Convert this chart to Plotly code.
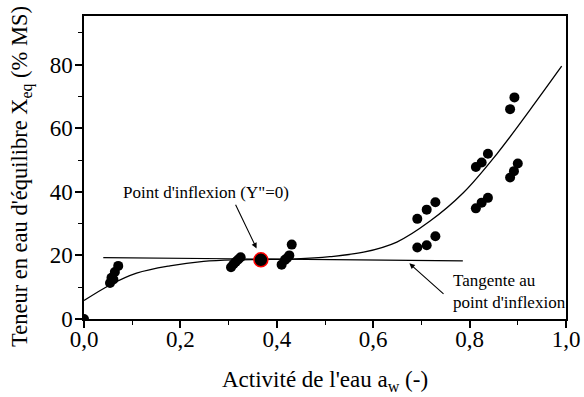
import plotly.graph_objects as go

# Measured points
aw_points = [0.0, 0.054, 0.057, 0.061, 0.064, 0.071,
             0.305, 0.310, 0.315, 0.320, 0.325,
             0.410, 0.417, 0.421, 0.426, 0.431,
             0.6915, 0.711, 0.729, 0.6915, 0.711, 0.729,
             0.813, 0.825, 0.838, 0.813, 0.825, 0.838,
             0.884, 0.893, 0.884, 0.892, 0.900]
x_points = [0.0, 11.3, 13.0, 12.4, 14.8, 16.7,
            16.3, 17.2, 18.0, 18.7, 19.4,
            17.1, 18.6, 19.1, 20.0, 23.4,
            31.5, 34.4, 36.7, 22.5, 23.2, 26.0,
            47.8, 49.2, 52.0, 34.8, 36.6, 38.1,
            66.0, 69.7, 44.5, 46.5, 48.9]

# Inflection point
aw_inflex = [0.367]
x_inflex = [18.6]

# Fitted curve
aw_curve = [0.0, 0.054, 0.109, 0.178, 0.248, 0.317, 0.37, 0.44, 0.51, 0.58,
            0.649, 0.718, 0.787, 0.856, 0.925, 0.991]
x_curve = [5.8, 10.7, 14.4, 16.7, 18.1, 18.6, 18.7, 18.9, 19.6, 21.0,
           24.2, 30.8, 39.7, 51.8, 65.7, 79.5]

# Tangent line at the inflection point
aw_tangent = [0.040, 0.786]
x_tangent = [19.3, 18.3]

x_title = "Activité de l'eau a<sub>w</sub> (-)"
y_title = "Teneur en eau d'équilibre X<sub>eq</sub> (% MS)"

FONT = "Liberation Serif"

fig = go.Figure()
fig.add_trace(go.Scatter(x=aw_curve, y=x_curve, mode="lines",
                         line=dict(color="black", width=1.3, shape="spline", smoothing=1.0),
                         showlegend=False, hoverinfo="skip"))
fig.add_trace(go.Scatter(x=aw_tangent, y=x_tangent, mode="lines",
                         line=dict(color="black", width=1.2),
                         showlegend=False, hoverinfo="skip"))
fig.add_trace(go.Scatter(x=aw_points, y=x_points, mode="markers",
                         marker=dict(color="black", size=10, line=dict(width=0)),
                         showlegend=False))
fig.add_trace(go.Scatter(x=aw_inflex, y=x_inflex, mode="markers",
                         marker=dict(color="black", size=14, line=dict(color="red", width=1.5)),
                         showlegend=False))

axis_common = dict(showline=True, linecolor="black", linewidth=1.5, mirror=True,
                   ticks="outside", ticklen=7, tickwidth=1.5, tickcolor="black",
                   showgrid=False, zeroline=False, automargin=False,
                   tickfont=dict(family=FONT, size=23, color="black"))

fig.update_xaxes(range=[0, 1], dtick=0.2, tickformat=".1f", ticklabelstandoff=-8,
                 minor=dict(dtick=0.1, ticks="outside", ticklen=4, tickwidth=1.2, tickcolor="black"),
                 **axis_common)
fig.update_yaxes(range=[0, 95.3], dtick=20, ticklabelstandoff=-2,
                 minor=dict(dtick=10, ticks="outside", ticklen=4, tickwidth=1.2, tickcolor="black"),
                 **axis_common)

# Axis titles
fig.add_annotation(x=0.5, y=-0.205, xref="paper", yref="paper", text=x_title,
                   showarrow=False, xanchor="center", yanchor="middle",
                   font=dict(family=FONT, size=23, color="black"))
fig.add_annotation(x=-0.1307, y=0.4686, xref="paper", yref="paper", text=y_title,
                   showarrow=False, xanchor="center", yanchor="middle", textangle=-90,
                   font=dict(family=FONT, size=22.5, color="black"))

fig.add_annotation(x=0.358, y=22.2, ax=0.313, ay=36.4, axref="x", ayref="y",
                   xref="x", yref="y", text="", showarrow=True,
                   arrowhead=2, arrowsize=1, arrowwidth=1.1, arrowcolor="black")
fig.add_annotation(x=0.254, y=39.7, xref="x", yref="y", text="Point d'inflexion (Y\"=0)",
                   showarrow=False, font=dict(family=FONT, size=17, color="black"))
fig.add_annotation(x=0.675, y=17.5, ax=0.749, ay=7.5, axref="x", ayref="y",
                   xref="x", yref="y", text="", showarrow=True,
                   arrowhead=2, arrowsize=1, arrowwidth=1.1, arrowcolor="black")
fig.add_annotation(x=0.761, y=8.8, xref="x", yref="y", xanchor="left", align="left",
                   text="Tangente au<br>point d'inflexion", showarrow=False,
                   font=dict(family=FONT, size=17, color="black"))

fig.update_layout(width=584, height=397, separators=",.",
                  margin=dict(l=84, r=18, t=16, b=78),
                  paper_bgcolor="white", plot_bgcolor="white",
                  font=dict(family=FONT, color="black"))

fig.write_html("out.html")
